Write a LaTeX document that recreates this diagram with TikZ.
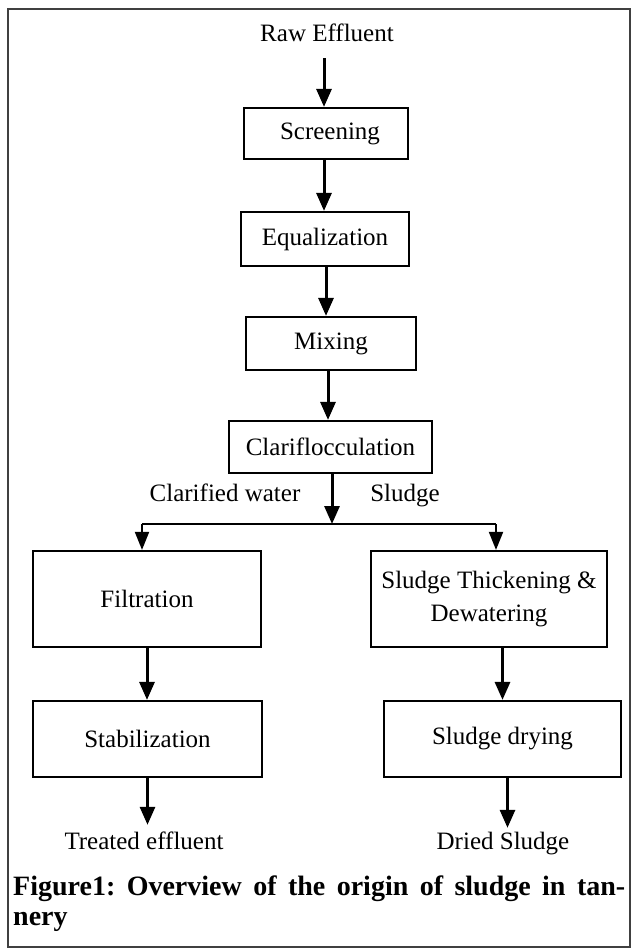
\documentclass[tikz,border=0pt]{standalone}
\usepackage{fontspec}
\setmainfont{Liberation Serif}
\usetikzlibrary{arrows.meta}
\begin{document}
\begin{tikzpicture}[x=1pt,y=-1pt,
  procbox/.style={draw, line width=2.2pt, inner sep=0pt, font=\fontsize{25}{29}\selectfont, align=center},
  lbl/.style={inner sep=0pt, text height=17pt, text depth=5pt, font=\fontsize{25}{29}\selectfont},
  arr/.style={line width=3pt, -{Triangle[width=15pt,length=18pt]}},
  thinarr/.style={line width=1.9pt, -{Triangle[width=14pt,length=18pt]}}]
\useasboundingbox (0,0) rectangle (637,948);
\draw[line width=1.6pt, black!75] (8,9) rectangle (630,947);

\node[lbl] (raw) at (327,35) {Raw Effluent};
\node[procbox, minimum width=164pt, minimum height=51pt] (screen) at (326,133.5) {\hspace*{8pt}Screening};
\node[procbox, minimum width=168pt, minimum height=54pt] (equal) at (325,239) {Equalization};
\node[procbox, minimum width=170pt, minimum height=53pt] (mix) at (331,343.5) {Mixing};
\node[procbox, minimum width=203pt, minimum height=52pt] (clar) at (330.5,447) {Clariflocculation};
\node[lbl] (cw) at (225,495) {Clarified water};
\node[lbl] (sl) at (405,495) {Sludge};
\node[procbox, minimum width=228pt, minimum height=96pt] (filt) at (147,599) {Filtration};
\node[procbox, minimum width=236pt, minimum height=96pt] (thick) at (489,599) {Sludge Thickening \&\\[4pt] Dewatering};
\node[procbox, minimum width=229pt, minimum height=76pt] (stab) at (147.5,739) {Stabilization};
\node[procbox, minimum width=237pt, minimum height=76pt] (dry) at (502.5,739) {Sludge drying};
\node[lbl] (treated) at (144,843) {Treated effluent};
\node[lbl] (dried) at (503,843) {Dried Sludge};

\coordinate (bl) at (142,524);
\coordinate (brr) at (496,524);
\coordinate (bm) at (332,524);

\draw[arr] ([xshift=-3pt,yshift=-23pt]raw.center) -- ([xshift=-3pt]raw.center |- screen.north);
\draw[arr] ([xshift=-2pt]screen.south) -- ([xshift=-2pt]screen.south |- equal.north);
\draw[arr] ([xshift=1pt]equal.south) -- ([xshift=1pt]equal.south |- mix.north);
\draw[arr] ([xshift=-3pt]mix.south) -- ([xshift=-3pt]mix.south |- clar.north);
\draw[arr] (clar.south -| bm) -- (bm);
\draw[line width=1.6pt] (bl) -- (brr);
\draw[thinarr] (bl) -- (bl |- filt.north);
\draw[thinarr] (brr) -- (brr |- thick.north);
\draw[arr] (filt.south) -- (filt.south |- stab.north);
\draw[arr] (thick.south -| dry.north) -- (dry.north);
\draw[arr] (stab.south) -- ([yshift=7pt]stab.south |- treated.north);
\draw[arr] ([xshift=5pt]dry.south) -- ([xshift=5pt,yshift=4pt]dry.south |- dried.north);

\node[anchor=base west, inner sep=0pt, text width=612pt, align=justify,
  font=\fontsize{28}{30}\selectfont\bfseries\frenchspacing] (cap) at (13,895)
  {Figure1: Overview of the origin of sludge in tan-\linebreak nery};
\end{tikzpicture}
\end{document}
